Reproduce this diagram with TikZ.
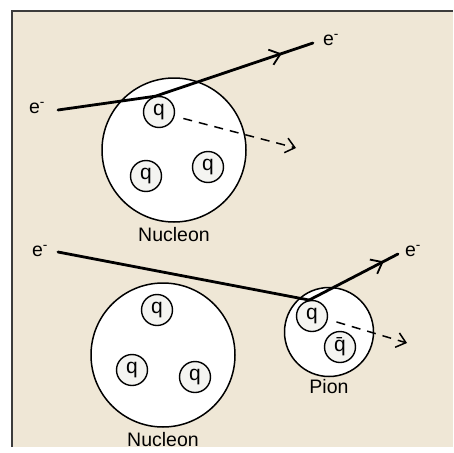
\documentclass[tikz,border=0pt]{standalone}
\usepackage{fontspec}
\setmainfont{Liberation Sans}
\usetikzlibrary{positioning,arrows.meta,decorations.markings}

\definecolor{paper}{RGB}{239,231,214}
\definecolor{frameline}{RGB}{60,60,60}
\definecolor{quarkfill}{RGB}{244,244,241}

\tikzset{
  hadron/.style={circle, draw, line width=1.5pt, fill=white, minimum size=#1, inner sep=0pt},
  quark/.style={circle, draw, line width=1.4pt, fill=quarkfill, minimum size=31pt,
    inner sep=0pt, font=\fontsize{21}{21}\selectfont},
  lbl/.style={font=\fontsize{19.5}{21}\selectfont, inner sep=1pt},
  electron/.style={line width=2.8pt, line join=round, postaction={decorate},
    decoration={markings, mark=at position #1 with
      {\arrow{Straight Barb[length=10pt,width=16pt,line width=1.8pt]}}}},
  struck/.style={line width=1.5pt, dash pattern=on 9pt off 7pt,
    -{Straight Barb[length=9pt,width=15pt,line width=1.5pt]}}
}

\begin{document}
\begin{tikzpicture}[x=1pt, y=-1pt]
  \useasboundingbox (0,0) rectangle (453,453);
  % page and frame
  \fill[paper] (12,11) rectangle (453,447);
  \draw[frameline, line width=1.5pt] (12,447) -- (12,11) -- (453,11);

  % upper case: scattering off a nucleon
  \node[hadron=144pt] (nucA) at (174,150) {};
  \node[quark] (qA1) at (159,112) {q};
  \node[quark] (qA2) at (146,176) {q};
  \node[quark] (qA3) at (208,167) {q};
  \node[lbl, below=3pt of nucA] (nucAlbl) {Nucleon};

  \node[lbl] (einAlbl) at (37,108) {e\textsuperscript{-}};
  \node[lbl] (eoutAlbl) at (331,40) {e\textsuperscript{-}};
  \coordinate (einA) at (58,110);
  \coordinate (eoutA) at (313,43);
  \coordinate (kickA) at (296,148);
  \draw[line width=2.8pt, line cap=round] (einA) -- (qA1.103);
  \draw[electron=-33pt, line cap=round] (qA1.103) -- (eoutA);
  \draw[struck, shorten <=9pt] (qA1.-15) -- (kickA);

  % lower case: scattering off a pion
  \node[hadron=144pt] (nucB) at (163,355) {};
  \node[quark] (qB1) at (157,310) {q};
  \node[quark] (qB2) at (132,370) {q};
  \node[quark] (qB3) at (195,377) {q};
  \node[lbl, below=3pt of nucB] (nucBlbl) {Nucleon};

  \node[hadron=89pt] (pion) at (329,332) {};
  \node[quark] (qP) at (312,316) {q};
  \node[quark] (qbarP) at (340,347) {\={q}};
  \node[lbl, below=1pt of pion] (pionlbl) {Pion};

  \node[lbl] (einBlbl) at (40,251) {e\textsuperscript{-}};
  \node[lbl] (eoutBlbl) at (413,251) {e\textsuperscript{-}};
  \coordinate (einB) at (58,252);
  \coordinate (eoutB) at (398,254);
  \coordinate (kickB) at (407,343);
  \draw[line width=2.8pt, line cap=round] (einB) -- (qP.100);
  \draw[electron=-16pt, line cap=round] (qP.100) -- (eoutB);
  \draw[struck, shorten <=9pt] (qP.-12) -- (kickB);
\end{tikzpicture}
\end{document}
